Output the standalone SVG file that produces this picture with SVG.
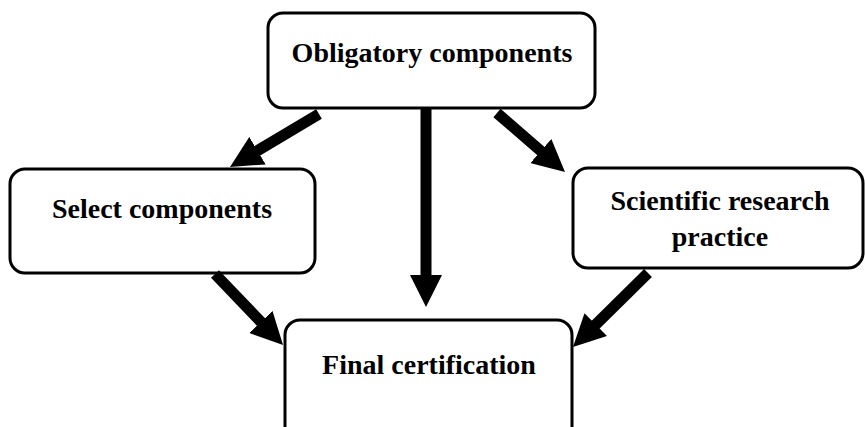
<svg xmlns="http://www.w3.org/2000/svg" width="865" height="427" viewBox="0 0 865 427">
<style>
.box{fill:#fff;stroke:#000;stroke-width:3}
.lbl{font-family:"Liberation Serif","Times New Roman",serif;font-weight:bold;font-size:28px;fill:#000;text-anchor:middle}
.arr{stroke:#000;stroke-width:11;fill:none;marker-end:url(#head)}
</style>
<defs>
<marker id="head" markerUnits="userSpaceOnUse" viewBox="0 0 32 32" markerWidth="32" markerHeight="32" refX="12" refY="16" orient="auto">
<path d="M0,0 L32,16 L0,32 z" fill="#000"/>
</marker>
</defs>
<rect width="865" height="427" fill="#fff"/>
<g id="node-obligatory">
<rect class="box" x="268" y="13" width="327" height="95" rx="15"/>
<text class="lbl" x="432" y="62">Obligatory components</text>
</g>
<g id="node-select">
<rect class="box" x="10" y="169" width="305" height="104" rx="15"/>
<text class="lbl" x="162" y="218">Select components</text>
</g>
<g id="node-scientific">
<rect class="box" x="573" y="168" width="290" height="100" rx="15"/>
<text class="lbl" x="720" y="210">Scientific research</text>
<text class="lbl" x="720" y="246">practice</text>
</g>
<g id="node-final">
<rect class="box" x="285" y="320" width="287" height="125" rx="15"/>
<text class="lbl" x="429" y="374">Final certification</text>
</g>
<g id="connectors">
<path class="arr" d="M426,108 L426,287"/>
<path class="arr" d="M319,114 L247.2,156.8"/>
<path class="arr" d="M497,113 L549.9,158.9"/>
<path class="arr" d="M215,274 L269.2,330.6"/>
<path class="arr" d="M648,273 L587.2,333"/>
</g>
</svg>
